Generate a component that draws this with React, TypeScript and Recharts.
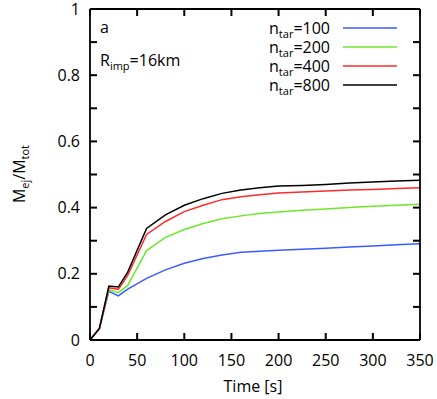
import { LineChart, Line, XAxis, YAxis, Legend, Customized } from "recharts";

const time = [0, 10, 20, 30, 40, 60, 80, 100, 120, 140, 160, 180, 200, 225, 250, 275, 300, 325, 350];
const n100 = [0, 0.035, 0.147, 0.133, 0.154, 0.186, 0.212, 0.232, 0.246, 0.257, 0.265, 0.268, 0.271, 0.274, 0.277, 0.281, 0.284, 0.288, 0.291];
const n200 = [0, 0.035, 0.152, 0.143, 0.165, 0.27, 0.31, 0.334, 0.352, 0.366, 0.375, 0.382, 0.387, 0.392, 0.396, 0.4, 0.404, 0.407, 0.41];
const n400 = [0, 0.035, 0.158, 0.153, 0.195, 0.319, 0.358, 0.388, 0.407, 0.424, 0.433, 0.439, 0.444, 0.447, 0.45, 0.453, 0.455, 0.458, 0.46];
const n800 = [0, 0.035, 0.163, 0.16, 0.205, 0.337, 0.378, 0.407, 0.427, 0.443, 0.453, 0.46, 0.465, 0.467, 0.47, 0.474, 0.477, 0.48, 0.483];

const xTicks = [0, 50, 100, 150, 200, 250, 300, 350];
const yTicks = [0, 0.1, 0.2, 0.3, 0.4, 0.5, 0.6, 0.7, 0.8, 0.9, 1];

const series = [
  { key: "n100", label: "100", color: "#3a5cff" },
  { key: "n200", label: "200", color: "#6ee82a" },
  { key: "n400", label: "400", color: "#ff2a2a" },
  { key: "n800", label: "800", color: "#000000" },
];

const data = time.map((t, i) => ({ t, n100: n100[i], n200: n200[i], n400: n400[i], n800: n800[i] }));

const FONT = "'Open Sans', 'DejaVu Sans', sans-serif";

const W = 437;
const H = 399;
const M = { top: 8, right: 16, bottom: 29, left: 0 };
const Y_AXIS_W = 90;
const X_AXIS_H = 30;
const box = { left: M.left + Y_AXIS_W, right: W - M.right - 1, top: M.top + 1, bottom: H - M.bottom - X_AXIS_H };
const TICK = 7;

const isMajorY = (v: number) => Math.abs(Math.round(v * 5) - v * 5) < 1e-6;
const fmtY = (v: number) => (!isMajorY(v) ? "" : v === 0 ? "0" : v === 1 ? "1" : v.toFixed(1));
const blank = () => "";

const axisStyle = { stroke: "#000", strokeWidth: 1.8 };
const tickText = { fontSize: 16, fontFamily: FONT, fill: "#000" };

const LegendBox = () => (
  <div style={{ fontFamily: FONT, fontSize: 16, color: "#000" }}>
    {series.map((s) => (
      <div key={s.key} style={{ display: "flex", alignItems: "center", height: 19 }}>
        <div style={{ width: 80, textAlign: "right", lineHeight: "16px" }}>
          n<sub style={{ fontSize: 11, verticalAlign: "-4px", lineHeight: 0 }}>tar</sub>={s.label}
        </div>
        <svg width={54} height={4} style={{ marginLeft: 13 }}>
          <line x1={0} x2={54} y1={2} y2={2} stroke={s.color} strokeWidth={1.5} />
        </svg>
      </div>
    ))}
  </div>
);

// inward ticks on all four sides
const FrameTicks = () => {
  const sx = (v: number) => box.left + ((box.right - box.left) * v) / 350;
  const sy = (v: number) => box.bottom - (box.bottom - box.top) * v;
  return (
    <g>
      {xTicks.map((v) => (
        <g key={"x" + v}>
          <line x1={sx(v)} x2={sx(v)} y1={box.bottom} y2={box.bottom - TICK} stroke="#000" strokeWidth={2} />
          <line x1={sx(v)} x2={sx(v)} y1={box.top} y2={box.top + TICK} stroke="#000" strokeWidth={2} />
        </g>
      ))}
      {yTicks.map((v) => (
        <g key={"y" + v}>
          <line x1={box.left} x2={box.left + TICK} y1={sy(v)} y2={sy(v)} stroke="#000" strokeWidth={2} />
          <line x1={box.right} x2={box.right - TICK} y1={sy(v)} y2={sy(v)} stroke="#000" strokeWidth={2} />
        </g>
      ))}
    </g>
  );
};

const Annotations = () => (
  <g fontFamily={FONT} fill="#000">
    <text x={100} y={33} fontSize={16}>a</text>
    <text x={100} y={66} fontSize={16}>
      R<tspan fontSize={11} dy={4}>imp</tspan>
      <tspan dy={-4} fontSize={16}>=16km</tspan>
    </text>
    <text x={253} y={392} fontSize={16} textAnchor="middle">Time [s]</text>
    <text transform="translate(25,174) rotate(-90)" fontSize={16} textAnchor="middle">
      M<tspan fontSize={11} dy={4}>ej</tspan>
      <tspan dy={-4} fontSize={16}>/M</tspan>
      <tspan fontSize={11} dy={4}>tot</tspan>
    </text>
  </g>
);

export default function App() {
  return (
    <div style={{ position: "fixed", left: 0, top: 0, background: "#fff" }}>
      <LineChart width={W} height={H} data={data} margin={M}>
        <XAxis
          dataKey="t"
          type="number"
          domain={[0, 350]}
          ticks={xTicks}
          tickSize={0}
          tickMargin={15}
          tickLine={false}
          tick={tickText}
          height={X_AXIS_H}
          axisLine={axisStyle}
        />
        <XAxis
          xAxisId="top"
          orientation="top"
          dataKey="t"
          type="number"
          domain={[0, 350]}
          ticks={xTicks}
          tickSize={0}
          tickLine={false}
          tickFormatter={blank}
          height={1}
          axisLine={axisStyle}
        />
        <YAxis
          type="number"
          domain={[0, 1]}
          ticks={yTicks}
          tickSize={0}
          tickMargin={10}
          tickLine={false}
          tickFormatter={fmtY}
          tick={tickText}
          width={Y_AXIS_W}
          axisLine={axisStyle}
        />
        <YAxis
          yAxisId="right"
          orientation="right"
          type="number"
          domain={[0, 1]}
          ticks={yTicks}
          tickSize={0}
          tickLine={false}
          tickFormatter={blank}
          width={1}
          axisLine={axisStyle}
        />
        {series.map((s) => (
          <Line
            key={s.key}
            dataKey={s.key}
            stroke={s.color}
            strokeWidth={1.5}
            dot={false}
            type="linear"
            isAnimationActive={false}
          />
        ))}
        <Legend
          content={<LegendBox />}
          layout="horizontal"
          verticalAlign="middle"
          align="center"
          wrapperStyle={{ top: 18, left: 250, width: 160 }}
        />
        <Customized component={FrameTicks} />
        <Customized component={Annotations} />
      </LineChart>
    </div>
  );
}
